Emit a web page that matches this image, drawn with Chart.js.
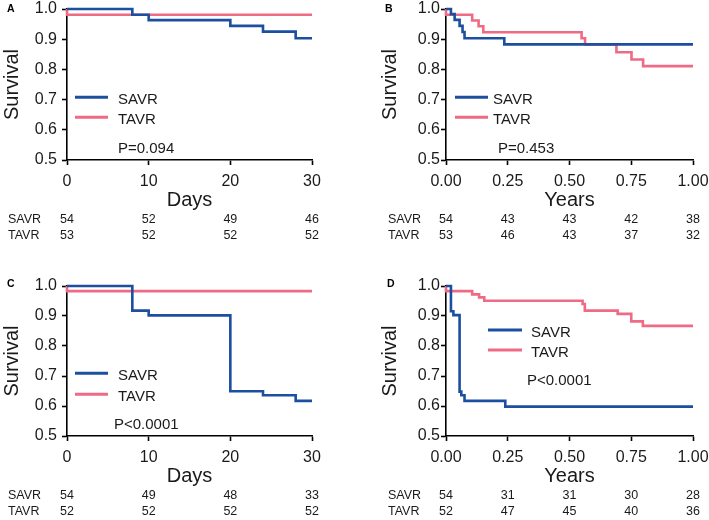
<!DOCTYPE html>
<html><head><meta charset="utf-8">
<script src="https://cdn.jsdelivr.net/npm/chart.js@4"></script>
<style>
html,body{margin:0;padding:0;background:#fff;}
#wrap{position:relative;width:709px;height:520px;overflow:hidden;background:#fff;}
canvas{position:absolute;}
</style></head><body>
<div id="wrap">
<canvas id="cA" width="355" height="260" style="left:0;top:0"></canvas>
<canvas id="cB" width="354" height="260" style="left:355px;top:0"></canvas>
<canvas id="cC" width="355" height="260" style="left:0;top:260px"></canvas>
<canvas id="cD" width="354" height="260" style="left:355px;top:260px"></canvas>
</div>
<script>
// ---------- data ----------
const groups = ['SAVR', 'TAVR'];
const dayTicks = [0, 10, 20, 30];
const yearTicks = [0, 0.25, 0.5, 0.75, 1];
const survivalTicks = [0.5, 0.6, 0.7, 0.8, 0.9, 1.0];

// Panel A (days)
const aSavrTime = [0, 8, 10, 20, 24, 28, 30];
const aSavrSurv = [1.0, 0.981, 0.963, 0.944, 0.925, 0.903, 0.903];
const aTavrTime = [0, 0, 30];
const aTavrSurv = [1.0, 0.981, 0.981];
const aSavrRisk = [54, 52, 49, 46];
const aTavrRisk = [53, 52, 52, 52];
const aPValue = 'P=0.094';

// Panel B (years)
const bSavrTime = [0, 0.02, 0.035, 0.055, 0.067, 0.075, 0.236, 1.0];
const bSavrSurv = [1.0, 0.983, 0.964, 0.944, 0.924, 0.903, 0.883, 0.883];
const bTavrTime = [0, 0, 0.106, 0.132, 0.151, 0.549, 0.563, 0.69, 0.751, 0.798, 1.0];
const bTavrSurv = [1.0, 0.981, 0.962, 0.943, 0.923, 0.903, 0.883, 0.857, 0.833, 0.811, 0.811];
const bSavrRisk = [54, 43, 43, 42, 38];
const bTavrRisk = [53, 46, 43, 37, 32];
const bPValue = 'P=0.453';

// Panel C (days)
const cSavrTime = [0, 8, 10, 20, 24, 28, 30];
const cSavrSurv = [1.0, 0.918, 0.902, 0.649, 0.636, 0.617, 0.617];
const cTavrTime = [0, 0, 30];
const cTavrSurv = [1.0, 0.983, 0.983];
const cSavrRisk = [54, 49, 48, 33];
const cTavrRisk = [52, 52, 52, 52];
const cPValue = 'P<0.0001';

// Panel D (years)
const dSavrTime = [0, 0.02, 0.03, 0.055, 0.062, 0.075, 0.24, 1.0];
const dSavrSurv = [1.0, 0.916, 0.903, 0.648, 0.636, 0.617, 0.598, 0.598];
const dTavrTime = [0, 0, 0.106, 0.134, 0.155, 0.553, 0.562, 0.695, 0.75, 0.797, 1.0];
const dTavrSurv = [1.0, 0.983, 0.972, 0.962, 0.951, 0.94, 0.918, 0.907, 0.882, 0.867, 0.867];
const dSavrRisk = [54, 31, 31, 30, 28];
const dTavrRisk = [52, 47, 45, 40, 36];
const dPValue = 'P<0.0001';

// ---------- styling ----------
const FONT = '"Liberation Sans", Arial, Helvetica, sans-serif';
const BLUE = '#1c4f9f';
const PINK = '#ef6a84';
const TXT = '#1a1a1a';

const pts = (t, s) => t.map((x, i) => ({ x: x, y: s[i] }));

const overlay = {
  id: 'overlay',
  afterDraw(chart, args, o) {
    const ctx = chart.ctx;
    const xs = chart.scales.x;
    const ca = chart.chartArea;
    ctx.save();
    ctx.fillStyle = '#000';
    ctx.textBaseline = 'alphabetic';
    ctx.textAlign = 'left';
    ctx.font = 'bold 10.5px ' + FONT;
    ctx.fillText(o.letter, o.letterX, o.letterY);
    // legend
    chart.data.datasets.forEach((ds, i) => {
      const y = o.legY[i];
      ctx.strokeStyle = ds.borderColor;
      ctx.lineWidth = 3;
      ctx.beginPath();
      ctx.moveTo(o.legX0, y);
      ctx.lineTo(o.legX1, y);
      ctx.stroke();
      ctx.fillStyle = TXT;
      ctx.font = '15px ' + FONT;
      ctx.fillText(ds.label, o.legTextX, y + 6.5);
    });
    ctx.fillStyle = TXT;
    ctx.font = '15px ' + FONT;
    ctx.fillText(o.p, o.pX, o.pY);
    // number at risk
    ctx.font = '12.5px ' + FONT;
    o.risk.forEach((row, r) => {
      const y = ca.bottom + 62.5 + r * 16.3;
      ctx.textAlign = 'left';
      ctx.fillText(groups[r], o.riskLabelX, y);
      ctx.textAlign = 'center';
      row.forEach((n, k) => ctx.fillText(String(n), xs.getPixelForValue(o.ticks[k]), y));
    });
    ctx.restore();
  }
};

function makePanel(id, p) {
  const isYears = p.ticks === yearTicks;
  new Chart(document.getElementById(id), {
    type: 'line',
    data: {
      datasets: [
        { label: groups[0], data: pts(p.savrT, p.savrS), borderColor: BLUE, backgroundColor: BLUE, borderWidth: 2.6, stepped: true, pointRadius: 0, fill: false, clip: false },
        { label: groups[1], data: pts(p.tavrT, p.tavrS), borderColor: PINK, backgroundColor: PINK, borderWidth: 2.6, stepped: true, pointRadius: 0, fill: false, clip: false }
      ]
    },
    options: {
      responsive: false,
      animation: false,
      events: [],
      layout: { padding: { left: 0, top: p.top, right: p.right, bottom: p.bottom } },
      plugins: {
        legend: { display: false },
        tooltip: { enabled: false },
        overlay: p.overlay
      },
      scales: {
        x: {
          type: 'linear',
          min: p.ticks[0], max: p.ticks[p.ticks.length - 1],
          afterBuildTicks: (s) => { s.ticks = p.ticks.map(v => ({ value: v })); },
          afterFit: (s) => { s.height = 52; s.paddingLeft = 0; s.paddingRight = 0; },
          border: { display: true, color: '#000', width: 1.6 },
          grid: { display: true, drawOnChartArea: false, drawTicks: true, tickLength: 5, color: '#000', tickWidth: 1.6 },
          ticks: {
            padding: 9, color: TXT, font: { family: FONT, size: 16, lineHeight: 1.0 },
            maxRotation: 0, autoSkip: false,
            callback: (v) => isYears ? Number(v).toFixed(2) : String(v)
          },
          title: { display: true, text: p.xTitle, color: TXT, font: { family: FONT, size: 20, lineHeight: 1.2 }, padding: { top: 0, bottom: 0 } }
        },
        y: {
          min: 0.5, max: 1.0,
          afterBuildTicks: (s) => { s.ticks = survivalTicks.map(v => ({ value: v })); },
          afterFit: (s) => { s.width = p.yWidth; s.paddingTop = 0; s.paddingBottom = 0; },
          border: { display: true, color: '#000', width: 1.6 },
          grid: { display: true, drawOnChartArea: false, drawTicks: true, tickLength: 5, color: '#000', tickWidth: 1.6 },
          ticks: {
            padding: p.yPad, color: TXT, font: { family: FONT, size: 16, lineHeight: 1.0 },
            autoSkip: false,
            callback: (v) => Number(v).toFixed(1)
          },
          title: { display: true, text: 'Survival', color: TXT, font: { family: FONT, size: 20, lineHeight: 1.2 }, padding: { top: p.yTitlePad, bottom: 0 } }
        }
      }
    },
    plugins: [overlay]
  });
}

makePanel('cA', {
  savrT: aSavrTime, savrS: aSavrSurv, tavrT: aTavrTime, tavrS: aTavrSurv,
  ticks: dayTicks, xTitle: 'Days', top: 9, right: 43, bottom: 48, yWidth: 67, yPad: 5, yTitlePad: 0,
  overlay: { letter: 'A', letterX: 7, letterY: 11.7, legX0: 75, legX1: 108, legTextX: 118, legY: [97.3, 117.3],
    p: aPValue, pX: 118, pY: 153, risk: [aSavrRisk, aTavrRisk], riskLabelX: 8, ticks: dayTicks }
});
makePanel('cB', {
  savrT: bSavrTime, savrS: bSavrSurv, tavrT: bTavrTime, tavrS: bTavrSurv,
  ticks: yearTicks, xTitle: 'Years', top: 9, right: 16, bottom: 48, yWidth: 91, yPad: 1, yTitlePad: 23,
  overlay: { letter: 'B', letterX: 30, letterY: 11.7, legX0: 100, legX1: 133, legTextX: 138, legY: [97.3, 117.3],
    p: bPValue, pX: 143, pY: 153.3, risk: [bSavrRisk, bTavrRisk], riskLabelX: 33, ticks: yearTicks }
});
makePanel('cC', {
  savrT: cSavrTime, savrS: cSavrSurv, tavrT: cTavrTime, tavrS: cTavrSurv,
  ticks: dayTicks, xTitle: 'Days', top: 26, right: 43, bottom: 32, yWidth: 67, yPad: 5, yTitlePad: 0,
  overlay: { letter: 'C', letterX: 7, letterY: 26.7, legX0: 75, legX1: 108, legTextX: 118, legY: [113.3, 134.3],
    p: cPValue, pX: 114, pY: 169.3, risk: [cSavrRisk, cTavrRisk], riskLabelX: 8, ticks: dayTicks }
});
makePanel('cD', {
  savrT: dSavrTime, savrS: dSavrSurv, tavrT: dTavrTime, tavrS: dTavrSurv,
  ticks: yearTicks, xTitle: 'Years', top: 26, right: 16, bottom: 32, yWidth: 91, yPad: 1, yTitlePad: 23,
  overlay: { letter: 'D', letterX: 32, letterY: 26.7, legX0: 133, legX1: 167, legTextX: 176, legY: [70, 90],
    p: dPValue, pX: 172, pY: 125, risk: [dSavrRisk, dTavrRisk], riskLabelX: 33, ticks: yearTicks }
});
</script>
</body></html>
